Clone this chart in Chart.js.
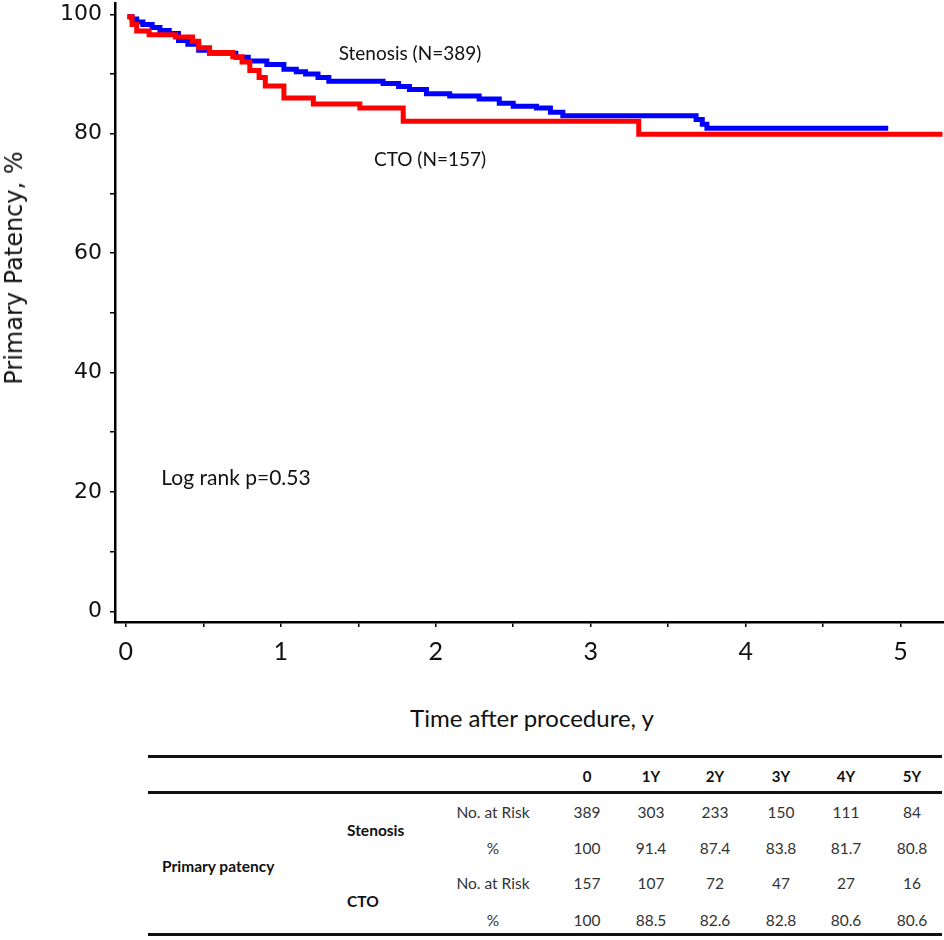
<!DOCTYPE html>
<html>
<head>
<meta charset="utf-8">
<script src="https://cdn.jsdelivr.net/npm/chart.js@4.4.1/dist/chart.umd.min.js"></script>
<style>
  html, body { margin: 0; padding: 0; background: #fff; }
  #wrap { position: relative; width: 944px; height: 940px; overflow: hidden; background: #fff; }
  #chartBox { position: absolute; left: 0; top: 0; width: 944px; height: 700px; }
  .t { position: absolute; white-space: nowrap; transform: translate(-50%, -50%); color: #111; }
  .l { position: absolute; white-space: nowrap; transform: translate(0, -50%); color: #111; }
  .rule { position: absolute; left: 148px; width: 794px; height: 3px; background: #111; }
</style>
</head>
<body>
<div id="wrap">
  <div id="chartBox"><canvas id="c"></canvas></div>
</div>
<script>
// ---- Kaplan-Meier step data (time in years, primary patency %) ----
const stenosisTime = [0.01, 0.04, 0.07, 0.11, 0.17, 0.22, 0.28, 0.34, 0.40, 0.47, 0.54, 0.71, 0.79, 0.91, 1.02, 1.10, 1.16, 1.24, 1.31, 1.66, 1.76, 1.83, 1.94, 2.09, 2.28, 2.41, 2.50, 2.65, 2.74, 2.82, 3.68, 3.72, 3.75, 4.92];
const stenosisPatency = [99.6, 99.2, 98.7, 98.3, 97.8, 97.3, 96.8, 95.6, 95.0, 94.0, 93.5, 92.8, 92.2, 91.6, 90.8, 90.4, 90.0, 89.4, 88.8, 88.4, 87.9, 87.4, 86.7, 86.3, 85.8, 85.1, 84.6, 84.3, 83.6, 83.0, 82.4, 81.6, 80.9, 80.9];
const ctoTime = [0.01, 0.04, 0.07, 0.15, 0.32, 0.43, 0.47, 0.54, 0.69, 0.75, 0.80, 0.86, 0.90, 1.02, 1.21, 1.51, 1.79, 3.31, 5.27];
const ctoPatency = [99.6, 98.3, 97.2, 96.6, 96.2, 95.5, 94.4, 93.6, 92.9, 92.0, 90.6, 89.4, 88.0, 86.0, 85.0, 84.3, 82.1, 79.9, 79.9];

// ---- Axis ticks ----
const xTickLabels = [0, 1, 2, 3, 4, 5];
const yTickLabels = [0, 20, 40, 60, 80, 100];

// ---- Number-at-risk table ----
const tableHeaders = ['0', '1Y', '2Y', '3Y', '4Y', '5Y'];
const stenosisAtRisk = ['389', '303', '233', '150', '111', '84'];
const stenosisPct = ['100', '91.4', '87.4', '83.8', '81.7', '80.8'];
const ctoAtRisk = ['157', '107', '72', '47', '27', '16'];
const ctoPct = ['100', '88.5', '82.6', '82.8', '80.6', '80.6'];

function toPoints(ts, vs) { return ts.map((t, i) => ({ x: t, y: vs[i] })); }

const ctx = document.getElementById('c');
new Chart(ctx, {
  type: 'scatter',
  data: {
    datasets: [
      { label: 'CTO (N=157)', data: toPoints(ctoTime, ctoPatency), showLine: true, stepped: true,
        borderColor: '#ff0000', backgroundColor: '#ff0000', borderWidth: 5, pointRadius: 0,
        borderCapStyle: 'butt', borderJoinStyle: 'miter', fill: false },
      { label: 'Stenosis (N=389)', data: toPoints(stenosisTime, stenosisPatency), showLine: true, stepped: true,
        borderColor: '#0000ff', backgroundColor: '#0000ff', borderWidth: 5, pointRadius: 0,
        borderCapStyle: 'butt', borderJoinStyle: 'miter', fill: false }
    ]
  },
  options: {
    responsive: true,
    maintainAspectRatio: false,
    animation: false,
    devicePixelRatio: 1,
    layout: { padding: { top: 3, left: 0, right: 0, bottom: 0 } },
    plugins: { legend: { display: false }, tooltip: { enabled: false } },
    scales: {
      x: {
        type: 'linear', min: -0.07, max: 5.28,
        ticks: {
          stepSize: 0.5, autoSkip: false, includeBounds: false, maxRotation: 0,
          color: '#111', padding: 10,
          font: { family: 'Lato', size: 25 },
          callback: (v) => xTickLabels.includes(v) ? String(v) : ''
        },
        grid: { display: true, drawOnChartArea: false, drawTicks: true, tickLength: 5, color: '#000', lineWidth: 1.5 },
        border: { display: true, color: '#000', width: 2.5 },
        afterFit: (s) => { s.height = 78; s.paddingLeft = 0; s.paddingRight = 0; }
      },
      y: {
        type: 'linear', min: -1.8, max: 101.9,
        ticks: {
          stepSize: 10, autoSkip: false, includeBounds: false,
          color: '#111', padding: 8,
          font: { family: 'DejaVu Sans', size: 22 },
          callback: (v) => yTickLabels.includes(v) ? String(v) : ''
        },
        grid: { display: true, drawOnChartArea: false, drawTicks: true, tickLength: 5, color: '#000', lineWidth: 1.5 },
        border: { display: true, color: '#000', width: 2.5 },
        afterFit: (s) => { s.width = 115; s.paddingTop = 0; s.paddingBottom = 0; }
      }
    }
  }
});

// ---- Text overlays ----
const wrap = document.getElementById('wrap');
function addText(txt, x, y, font, cls, extra) {
  const d = document.createElement('div');
  d.className = cls || 't';
  d.textContent = txt;
  d.style.left = x + 'px';
  d.style.top = y + 'px';
  d.style.font = font;
  if (extra) Object.assign(d.style, extra);
  wrap.appendChild(d);
  return d;
}
// axis titles
addText('Primary Patency, %', 14, 268, '24px "DejaVu Sans"', 't', { transform: 'translate(-50%, -50%) rotate(-90deg)' });
addText('Time after procedure, y', 532, 717, '24px Lato', 't');
// annotations
addText('Stenosis (N=389)', 410, 52, '19px Lato', 't');
addText('CTO (N=157)', 430, 158, '19px Lato', 't');
addText('Log rank p=0.53', 236, 476, '21px Lato', 't');

// ---- Table ----
[756, 792, 934].forEach(y => {
  const r = document.createElement('div');
  r.className = 'rule';
  r.style.top = (y - 1) + 'px';
  wrap.appendChild(r);
});
const colX = [587, 651, 715, 781, 846, 912];
const rowY = [812, 848, 883, 920];
tableHeaders.forEach((h, i) => addText(h, colX[i], 776, 'bold 15px Lato', 't'));
const rows = [stenosisAtRisk, stenosisPct, ctoAtRisk, ctoPct];
const rowLabels = ['No. at Risk', '%', 'No. at Risk', '%'];
rows.forEach((row, r) => {
  addText(rowLabels[r], 493, rowY[r], '15.5px Lato', 't', { color: '#333' });
  row.forEach((v, i) => addText(v, colX[i], rowY[r], '15.5px Lato', 't', { color: '#333' }));
});
addText('Stenosis', 347, 830, 'bold 15.5px Lato', 'l');
addText('CTO', 347, 901, 'bold 15.5px Lato', 'l');
addText('Primary patency', 162, 866, 'bold 15.5px Lato', 'l');
</script>
</body>
</html>
